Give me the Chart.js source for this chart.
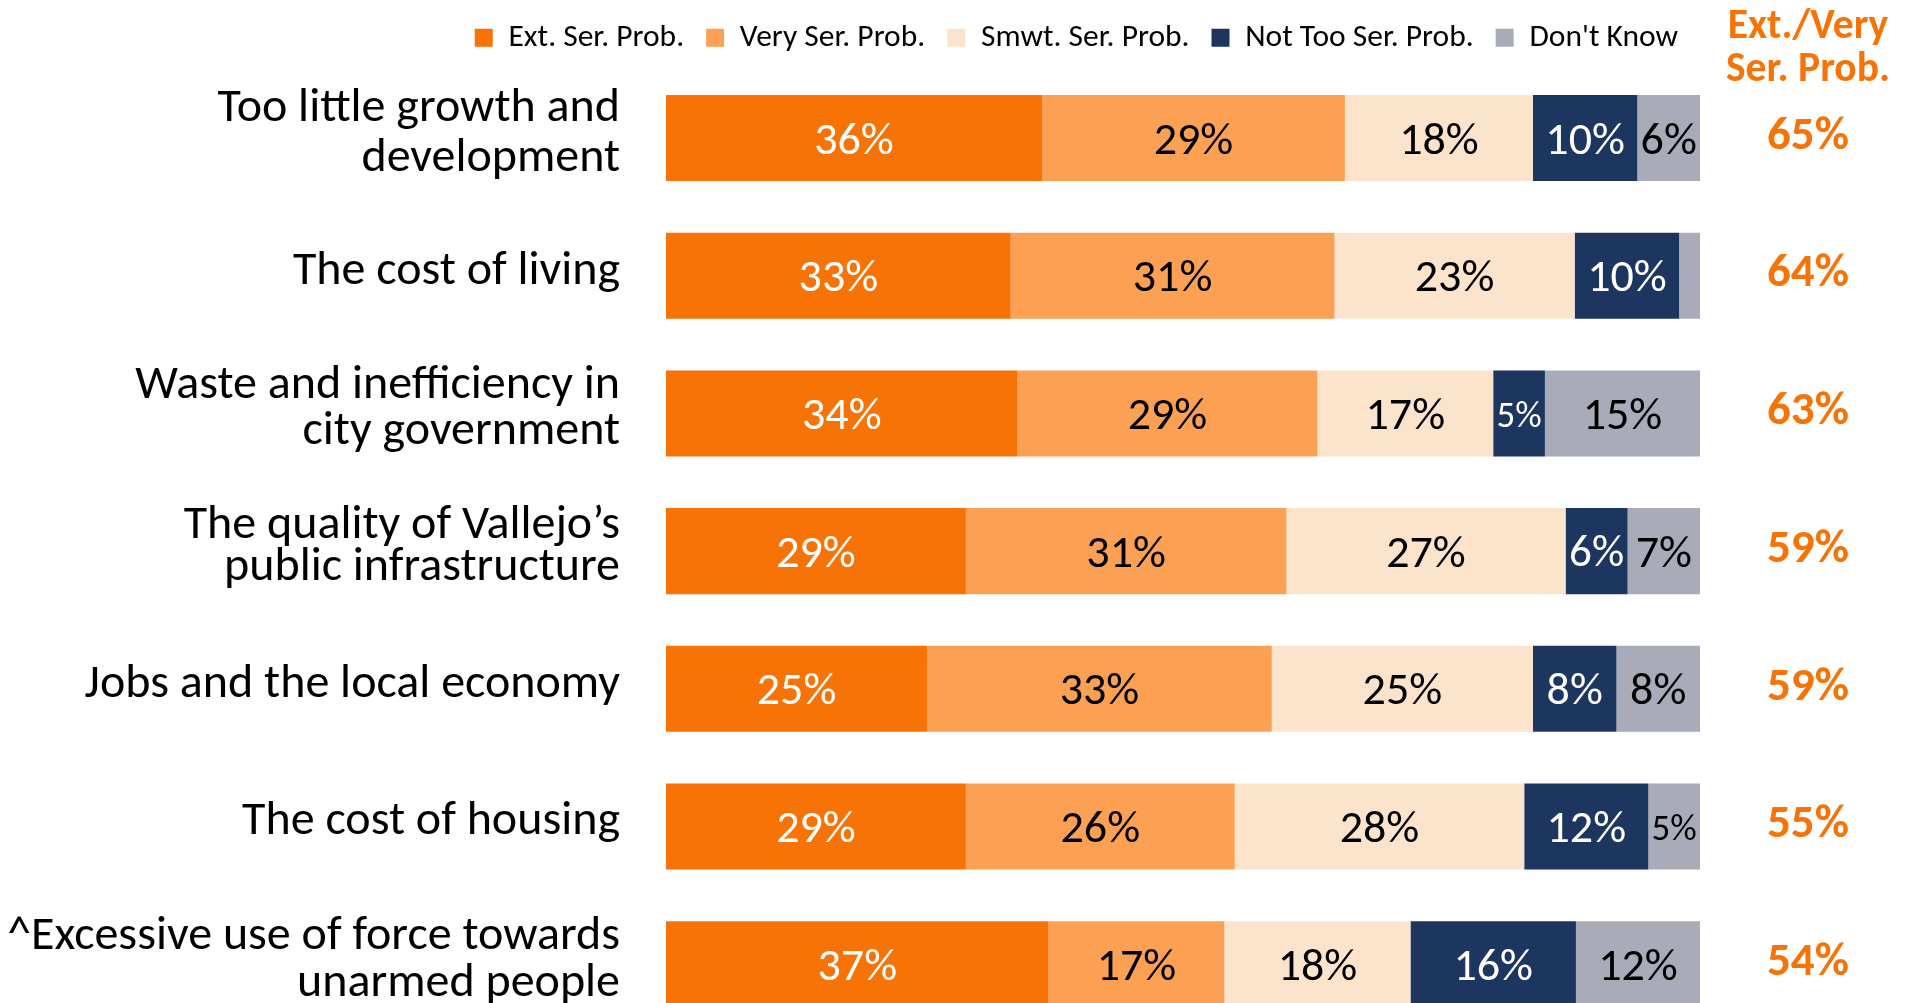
<!DOCTYPE html>
<html>
<head>
<meta charset="utf-8">
<script src="https://cdn.jsdelivr.net/npm/chart.js@4.4.1/dist/chart.umd.min.js"></script>
<style>
  html, body { margin: 0; padding: 0; background: #ffffff; overflow: hidden; }
  #wrap { width: 1914px; height: 1033px; }
</style>
</head>
<body>
<div id="wrap"><canvas id="c" width="1914" height="1033"></canvas></div>
<script>
// ---- data ----
const categories = [
  ["Too little growth and", "development"],
  "The cost of living",
  ["Waste and inefficiency in", "city government"],
  ["The quality of Vallejo\u2019s", "public infrastructure"],
  "Jobs and the local economy",
  "The cost of housing",
  ["^Excessive use of force towards", "unarmed people"]
];
const seriesNames = ["Ext. Ser. Prob.", "Very Ser. Prob.", "Smwt. Ser. Prob.", "Not Too Ser. Prob.", "Don't Know"];
const extSer    = [36, 33, 34, 29, 25, 29, 37];
const verySer   = [29, 31, 29, 31, 33, 26, 17];
const smwtSer   = [18, 23, 17, 27, 25, 28, 18];
const notTooSer = [10, 10, 5, 6, 8, 12, 16];
const dontKnow  = [6, 2, 15, 7, 8, 5, 12];
const extVeryTotals = [65, 64, 63, 59, 59, 55, 54];
const totalsHeader = ["Ext./Very", "Ser. Prob."];

// ---- styles ----
const seriesColors = ["#F87306", "#FCA154", "#FCE3CC", "#1D365F", "#A9ABB8"];
const labelColors  = ["#FFFFFF", "#000000", "#000000", "#FFFFFF", "#000000"];
const accent = "#F87306";
const FONT = "Carlito, Lato, 'Open Sans', sans-serif";
const tickLineHeights = [1.04, 1.0, 0.96, 0.86, 1.0, 1.0, 0.98];

const rawSeries = [extSer, verySer, smwtSer, notTooSer, dontKnow];
const rowSums = categories.map((_, i) => rawSeries.reduce((s, arr) => s + arr[i], 0));

const datasets = rawSeries.map((arr, k) => ({
  label: seriesNames[k],
  data: arr.map((v, i) => v / rowSums[i] * 100),
  raw: arr,
  backgroundColor: seriesColors[k],
  borderWidth: 0,
  barPercentage: 0.625,
  categoryPercentage: 1.0
}));

const valueLabels = {
  id: 'valueLabels',
  afterDatasetsDraw(chart) {
    const ctx = chart.ctx;
    ctx.save();
    ctx.textAlign = 'center';
    ctx.textBaseline = 'middle';
    chart.data.datasets.forEach((ds, k) => {
      const meta = chart.getDatasetMeta(k);
      meta.data.forEach((el, i) => {
        const v = ds.raw[i];
        if (v < 3) return;
        const p = el.getProps(['x', 'y', 'base'], true);
        const w = Math.abs(p.x - p.base);
        const txt = v + '%';
        let size = 46;
        ctx.font = size + 'px ' + FONT;
        while (ctx.measureText(txt).width > w - 6 && size > 20) {
          size -= 1;
          ctx.font = size + 'px ' + FONT;
        }
        ctx.fillStyle = labelColors[k];
        ctx.fillText(txt, (p.x + p.base) / 2, p.y + 4);
      });
    });
    ctx.restore();
  }
};

const totalsColumn = {
  id: 'totalsColumn',
  afterDraw(chart) {
    const ctx = chart.ctx;
    const ys = chart.scales.y;
    const cx = 1808;
    ctx.save();
    ctx.textAlign = 'center';
    ctx.textBaseline = 'middle';
    ctx.fillStyle = accent;
    ctx.font = 'bold 41.5px ' + FONT;
    ctx.fillText(totalsHeader[0], cx, 28);
    ctx.fillText(totalsHeader[1], cx, 71);
    ctx.font = 'bold 47px ' + FONT;
    extVeryTotals.forEach((t, i) => {
      ctx.fillText(t + '%', cx, ys.getPixelForValue(i) - 1);
    });
    ctx.restore();
  }
};

new Chart(document.getElementById('c'), {
  type: 'bar',
  data: { labels: categories, datasets },
  options: {
    indexAxis: 'y',
    responsive: false,
    animation: false,
    devicePixelRatio: 1,
    layout: { padding: { top: 0, right: 214, bottom: 0, left: 0 } },
    plugins: {
      legend: {
        position: 'top',
        align: 'end',
        labels: {
          boxWidth: 18,
          boxHeight: 18,
          padding: 22,
          color: '#000000',
          font: { family: FONT, size: 31.5 }
        }
      },
      tooltip: { enabled: false },
      title: { display: false }
    },
    scales: {
      x: {
        position: 'top',
        stacked: true,
        min: 0,
        max: 100,
        grid: { display: false, drawTicks: false },
        border: { display: false },
        ticks: { display: false },
        afterFit(s) { s.height = 5.7; s.paddingLeft = 0; s.paddingRight = 0; }
      },
      y: {
        stacked: true,
        grid: { display: false, drawTicks: false },
        border: { display: false },
        ticks: {
          color: '#000000',
          padding: 46,
          labelOffset: -4,
          font: (c) => ({ family: FONT, size: 48, lineHeight: tickLineHeights[c.index] || 1.0 }),
          autoSkip: false
        },
        afterFit(s) { s.width = 666; s.paddingTop = 0; s.paddingBottom = 0; }
      }
    }
  },
  plugins: [valueLabels, totalsColumn]
});
</script>
</body>
</html>
